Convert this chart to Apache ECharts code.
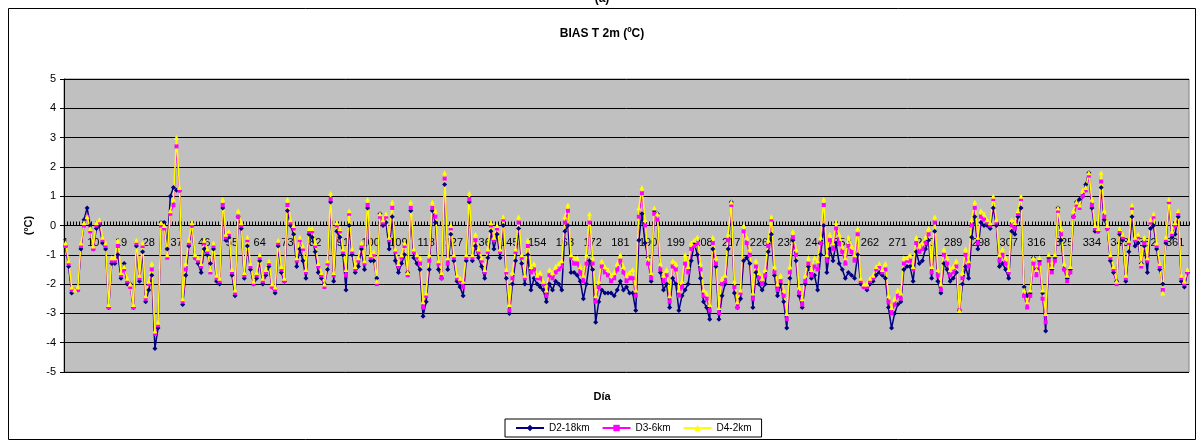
<!DOCTYPE html>
<html><head><meta charset="utf-8">
<script src="https://cdn.jsdelivr.net/npm/echarts@6/dist/echarts.min.js"></script>
<style>html,body{margin:0;padding:0;background:#fff}#c{width:1204px;height:446px}</style>
</head><body><div id="c"></div>
<script>
const days = Array.from({length:365}, (_, i) => String(i + 1));

const d4 = [
-0.6,-1.2,-2.1,-2.2,-2.1,-0.6,0.1,0.3,-0.1,-0.7,
0.1,0.2,-0.4,-0.6,-2.7,-1.1,-1.1,-0.5,-1.6,-1.4,
-1.8,-2.0,-2.7,-0.5,-1.7,-0.6,-2.4,-1.9,-1.3,-3.6,
-3.3,0.1,0.0,-1.0,0.5,0.9,3.0,1.3,-2.5,-1.3,
-0.5,0.1,-1.0,-1.1,-1.3,-0.5,-0.8,-1.5,-0.6,-1.7,
-1.8,0.9,-0.3,-0.2,-1.5,-2.2,0.5,0.1,-1.6,-0.4,
-1.3,-1.9,-1.6,-1.0,-1.8,-1.5,-1.2,-2.0,-2.1,-0.5,
-1.4,-1.8,0.9,0.2,0.0,-1.1,-0.4,-0.7,-1.5,-0.1,
-0.1,-0.6,-1.3,-1.6,-2.0,-1.2,1.1,-1.6,0.1,-0.1,
-0.8,-1.5,0.5,-0.8,-1.4,-1.1,-0.6,-1.2,0.9,-1.0,
-0.9,-1.9,0.4,0.2,0.4,-0.4,0.8,-0.8,-1.3,-1.0,
-0.6,-1.6,0.8,-0.8,-1.0,-1.1,-2.6,-2.3,-1.0,0.8,
0.5,-1.2,-1.6,1.8,-1.1,0.0,-1.0,-1.7,-1.8,-1.9,
-1.0,1.1,-1.0,-0.3,-0.8,-1.1,-1.5,-0.8,0.1,-0.4,
0.0,-0.8,0.3,-1.5,-2.7,-1.6,-0.8,0.3,-1.0,-1.7,
-0.5,-1.4,-1.3,-1.7,-1.6,-1.9,-2.2,-1.5,-1.6,-1.4,
-1.3,-1.2,0.3,0.7,-1.0,-1.1,-1.1,-1.4,-1.7,-1.0,
0.4,-1.1,-2.4,-1.9,-1.2,-1.4,-1.5,-1.7,-1.6,-1.3,
-1.0,-1.4,-1.7,-1.6,-1.5,-2.2,0.6,1.3,0.2,-1.1,
-1.6,0.6,0.4,-1.3,-1.7,-1.5,-2.4,-1.2,-1.3,-2.2,
-1.9,-1.0,-1.4,-0.6,-0.5,-0.4,-1.3,-2.2,-2.3,-2.7,
-0.4,-1.1,-2.8,-1.8,-1.7,-0.3,0.8,-1.9,-2.6,-2.2,
0.0,-0.4,-0.8,-2.3,-1.2,-1.6,-1.8,-1.5,-0.5,0.3,
-1.4,-2.0,-1.7,-2.2,-3.0,-1.4,-0.2,-0.8,-2.1,-2.5,
-1.7,-1.1,-1.5,-1.1,-1.2,-0.4,0.9,-1.0,-0.3,-0.6,
0.1,-0.3,-0.7,-1.1,-0.4,-0.7,-1.0,-0.1,-1.8,-2.0,
-2.0,-1.8,-1.7,-1.4,-1.3,-1.5,-1.3,-2.4,-2.8,-2.5,
-2.2,-2.3,-1.1,-1.1,-1.0,-1.4,-0.4,-0.7,-0.6,-0.4,
-0.1,-1.4,0.3,-1.5,-2.0,-0.8,-1.1,-1.5,-1.4,-1.2,
-2.9,-1.6,-0.8,-1.2,0.2,0.8,-0.4,0.5,0.4,0.2,
0.1,1.0,0.2,-1.0,-0.8,-1.1,-1.5,0.2,0.1,0.5,
1.0,-2.2,-2.6,-2.2,-1.1,-1.5,-1.1,-2.2,-3.0,-1.0,
-1.4,-1.0,0.6,-0.1,-1.3,-1.7,-1.4,0.5,0.8,0.7,
1.2,1.3,1.8,0.9,0.0,-0.1,1.8,0.5,0.0,-1.0,
-1.4,-1.9,-0.1,-0.3,-1.7,-0.5,0.7,-0.4,-0.3,-1.3,
-0.4,-1.1,0.2,0.4,-0.6,-1.3,-2.3,-0.4,0.9,-0.2,
0.1,0.5,-1.7,-1.9,-1.5
];

const d3 = [
-0.7,-1.3,-2.2,-2.2,-2.2,-0.7,0.0,0.3,-0.2,-0.8,
0.0,0.1,-0.5,-0.7,-2.8,-1.2,-1.2,-0.7,-1.7,-1.5,
-1.9,-2.1,-2.8,-0.6,-1.8,-0.7,-2.5,-2.0,-1.5,-3.7,
-3.4,0.0,-0.1,-1.1,0.4,0.7,2.7,1.2,-2.6,-1.5,
-0.6,0.0,-1.1,-1.2,-1.4,-0.6,-0.9,-1.6,-0.7,-1.8,
-1.9,0.7,-0.4,-0.3,-1.6,-2.3,0.3,0.0,-1.7,-0.5,
-1.4,-2.0,-1.7,-1.1,-1.9,-1.6,-1.3,-2.1,-2.2,-0.6,
-1.5,-1.9,0.7,0.1,-0.1,-1.2,-0.5,-0.8,-1.6,-0.2,
-0.2,-0.7,-1.4,-1.7,-2.1,-1.3,0.9,-1.7,0.0,-0.2,
-0.9,-1.7,0.4,-0.9,-1.5,-1.2,-0.7,-1.3,0.7,-1.1,
-1.0,-2.0,0.3,0.1,0.3,-0.5,0.6,-0.9,-1.4,-1.1,
-0.7,-1.7,0.6,-0.9,-1.1,-1.3,-2.8,-2.4,-1.2,0.6,
0.3,-1.3,-1.8,1.6,-1.3,-0.1,-1.1,-1.8,-1.9,-2.1,
-1.1,0.9,-1.1,-0.5,-0.9,-1.2,-1.6,-0.9,0.0,-0.5,
-0.1,-0.9,0.2,-1.6,-2.9,-1.8,-0.9,0.1,-1.1,-1.8,
-0.7,-1.6,-1.5,-1.8,-1.8,-2.0,-2.4,-1.7,-1.8,-1.6,
-1.5,-1.4,0.1,0.5,-1.1,-1.3,-1.3,-1.6,-1.9,-1.3,
0.1,-1.3,-2.6,-2.1,-1.4,-1.6,-1.7,-1.9,-1.8,-1.5,
-1.2,-1.6,-1.9,-1.8,-1.8,-2.4,0.3,1.1,0.0,-1.3,
-1.8,0.4,0.2,-1.5,-1.9,-1.7,-2.6,-1.4,-1.5,-2.4,
-2.1,-1.3,-1.6,-0.8,-0.7,-0.6,-1.5,-2.4,-2.5,-2.9,
-0.6,-1.3,-3.0,-2.0,-1.9,-0.5,0.7,-2.1,-2.8,-2.3,
-0.2,-0.6,-1.0,-2.5,-1.4,-1.8,-2.0,-1.7,-0.7,0.2,
-1.6,-2.2,-1.9,-2.4,-3.2,-1.6,-0.4,-1.0,-2.3,-2.7,
-1.9,-1.3,-1.7,-1.4,-1.5,-0.6,0.7,-1.2,-0.5,-0.8,
-0.1,-0.6,-0.9,-1.3,-0.7,-0.9,-1.2,-0.3,-1.9,-2.1,
-2.1,-1.9,-1.8,-1.5,-1.4,-1.6,-1.5,-2.6,-3.0,-2.7,
-2.4,-2.5,-1.3,-1.2,-1.2,-1.5,-0.6,-0.9,-0.8,-0.6,
-0.3,-1.6,0.1,-1.7,-2.2,-1.0,-1.3,-1.7,-1.6,-1.4,
-2.9,-1.8,-1.0,-1.4,0.0,0.6,-0.6,0.3,0.2,0.1,
0.0,0.9,0.1,-1.2,-1.0,-1.3,-1.6,0.0,-0.1,0.4,
0.9,-2.4,-2.8,-2.4,-1.3,-1.7,-1.3,-2.5,-3.3,-1.2,
-1.6,-1.2,0.5,-0.3,-1.5,-1.9,-1.6,0.3,0.7,0.6,
1.0,1.2,1.7,0.7,-0.1,-0.2,1.5,0.3,-0.1,-1.1,
-1.5,-2.0,-0.2,-0.4,-1.8,-0.6,0.6,-0.5,-0.4,-1.4,
-0.6,-1.2,0.1,0.3,-0.7,-1.4,-2.2,-0.5,0.8,-0.3,
0.0,0.4,-1.8,-2.0,-1.6
];

const d2 = [
-0.7,-1.4,-2.3,-2.2,-2.2,-0.8,0.2,0.6,0.0,-0.8,
-0.1,0.0,-0.6,-0.8,-2.8,-1.3,-1.3,-1.0,-1.8,-1.3,
-2.0,-2.0,-2.8,-0.7,-1.9,-0.9,-2.6,-2.2,-1.7,-4.2,
-3.5,0.1,0.1,-0.8,1.0,1.3,1.2,1.2,-2.7,-1.7,
-0.7,0.0,-1.1,-1.3,-1.6,-0.8,-1.0,-1.3,-0.8,-1.9,
-2.0,0.6,-0.5,-0.4,-1.7,-2.4,0.3,-0.1,-1.8,-0.7,
-1.5,-2.0,-1.8,-1.2,-2.0,-1.7,-1.4,-2.1,-2.3,-0.7,
-1.6,-1.9,0.5,0.0,-0.3,-1.4,-0.8,-1.2,-1.8,-0.3,
-0.4,-0.9,-1.6,-1.8,-2.0,-1.5,0.8,-1.9,-0.2,-0.4,
-1.0,-2.2,0.0,-1.0,-1.6,-1.4,-0.8,-1.5,0.6,-1.2,
-1.2,-1.8,0.4,0.0,0.1,-0.8,0.3,-1.2,-1.6,-1.3,
-1.0,-1.6,0.5,-1.1,-1.3,-1.5,-3.1,-2.6,-1.5,0.5,
0.1,-1.5,-1.8,1.4,-1.5,-0.3,-1.2,-1.9,-2.1,-2.4,
-1.2,0.8,-1.2,-0.7,-1.1,-1.4,-1.8,-1.1,-0.2,-0.8,
-0.3,-1.1,0.0,-1.8,-3.0,-2.0,-1.2,-0.1,-1.3,-2.0,
-1.0,-2.2,-1.8,-2.0,-2.1,-2.2,-2.6,-2.0,-2.2,-1.9,
-2.0,-2.2,-0.2,0.0,-1.6,-1.6,-1.7,-1.9,-2.5,-2.0,
-1.2,-1.5,-3.3,-2.6,-2.2,-2.3,-2.3,-2.3,-2.4,-2.2,
-1.9,-2.2,-2.1,-2.3,-2.3,-2.9,-0.5,0.4,-0.6,-1.1,
-1.9,0.5,0.4,-1.6,-2.2,-2.0,-2.8,-1.8,-2.0,-2.9,
-2.4,-2.2,-2.0,-1.2,-0.6,-1.0,-1.8,-2.6,-2.8,-3.2,
-0.8,-1.4,-3.2,-2.4,-2.0,-0.8,0.8,-2.3,-2.8,-2.5,
-1.2,-1.1,-1.3,-2.8,-1.6,-2.0,-2.2,-2.0,-0.9,-0.3,
-1.7,-2.4,-2.0,-2.6,-3.5,-1.8,-0.5,-1.2,-2.4,-2.8,
-2.0,-1.4,-1.8,-1.7,-2.2,-1.0,0.0,-1.6,-0.8,-1.2,
-0.6,-1.3,-1.5,-1.8,-1.6,-1.7,-1.8,-1.0,-2.0,-2.1,
-2.2,-2.0,-1.9,-1.7,-1.6,-1.7,-1.8,-2.8,-3.5,-3.0,
-2.7,-2.6,-1.5,-1.4,-1.4,-1.9,-0.9,-1.3,-1.2,-0.8,
-0.5,-1.8,-0.2,-1.9,-2.3,-1.3,-1.5,-1.9,-1.8,-1.6,
-2.9,-2.0,-1.4,-1.8,-0.4,0.3,-0.8,0.1,0.0,0.0,
-0.1,0.6,0.0,-1.4,-1.3,-1.5,-1.8,-0.2,-0.3,0.3,
0.6,-2.1,-2.4,-2.3,-1.1,-1.5,-1.2,-2.3,-3.6,-1.1,
-1.5,-1.1,0.6,-0.5,-1.5,-1.8,-1.5,0.3,0.8,0.9,
1.0,1.4,1.8,0.6,-0.2,-0.2,1.3,0.2,-0.1,-1.2,
-1.6,-1.9,-0.3,-0.5,-1.9,-0.9,0.3,-0.7,-0.6,-1.3,
-0.7,-1.6,-0.1,0.0,-0.8,-1.5,-2.0,-0.6,0.8,-0.4,
-0.3,0.3,-1.9,-2.1,-1.6
];

const seriesNames = ['D2-18km', 'D3-6km', 'D4-2km'];
const seriesColors = ['#000080', '#FF00FF', '#FFFF00'];

const FONT = '"Liberation Sans", Arial, sans-serif';
const chart = echarts.init(document.getElementById('c'), null, {renderer: 'canvas'});
chart.setOption({
  animation: false,
  backgroundColor: '#fff',
  textStyle: {fontFamily: FONT},
  title: [
    {text: 'BIAS T 2m (ºC)', left: 'center', top: 23,
     textStyle: {fontSize: 12, fontWeight: 'bold', color: '#000', fontFamily: FONT}},
    {text: 'Día', left: 'center', top: 386,
     textStyle: {fontSize: 11, fontWeight: 'bold', color: '#000', fontFamily: FONT}}
  ],
  legend: {
    top: 419, left: 505,
    data: seriesNames,
    backgroundColor: '#fff', borderColor: '#000', borderWidth: 1,
    padding: [4, 10], itemGap: 12, itemWidth: 28, itemHeight: 8,
    textStyle: {fontSize: 10, color: '#000', fontFamily: FONT}
  },
  graphic: [
    {type: 'rect', shape: {x: 8.5, y: 8.5, width: 1187, height: 431},
     style: {fill: 'none', stroke: '#000', lineWidth: 1}, z: -1, silent: true},
    {type: 'text', left: 'center', top: -7,
     style: {text: '(a)', font: 'bold 12px ' + FONT, fill: '#000'}}
  ],
  grid: {left: 64, top: 79, width: 1125, height: 293, show: true,
         backgroundColor: '#C0C0C0', borderColor: '#808080', borderWidth: 1},
  xAxis: {
    type: 'category', data: days, boundaryGap: true, position: 'bottom', offset: -146.5,
    axisLine: {onZero: false, lineStyle: {color: '#000', width: 1}},
    axisTick: {show: true, interval: 0, inside: true, length: 4, lineStyle: {color: '#000'}},
    axisLabel: {interval: 8, color: '#000', fontSize: 11, margin: 12, fontFamily: FONT},
    splitLine: {show: false}
  },
  yAxis: {
    type: 'value', min: -5, max: 5, interval: 1,
    axisLine: {show: true, lineStyle: {color: '#000'}},
    axisTick: {show: true, length: 4, lineStyle: {color: '#000'}},
    axisLabel: {color: '#000', fontSize: 11, fontFamily: FONT},
    splitLine: {show: true, lineStyle: {color: '#000', width: 1}},
    name: '(ºC)', nameLocation: 'middle', nameGap: 30,
    nameTextStyle: {fontWeight: 'bold', fontSize: 11, color: '#000', fontFamily: FONT}
  },
  series: [
    {name: seriesNames[0], type: 'line', data: d2, symbol: 'diamond', symbolSize: 5,
     showAllSymbol: true, lineStyle: {color: seriesColors[0], width: 1.5},
     itemStyle: {color: seriesColors[0]}},
    {name: seriesNames[1], type: 'line', data: d3, symbol: 'rect', symbolSize: 4,
     showAllSymbol: true, lineStyle: {color: seriesColors[1], width: 1.5},
     itemStyle: {color: seriesColors[1]}},
    {name: seriesNames[2], type: 'line', data: d4, symbol: 'triangle', symbolSize: 5,
     showAllSymbol: true, lineStyle: {color: seriesColors[2], width: 1.5},
     itemStyle: {color: seriesColors[2]}}
  ]
});
</script>
</body></html>
